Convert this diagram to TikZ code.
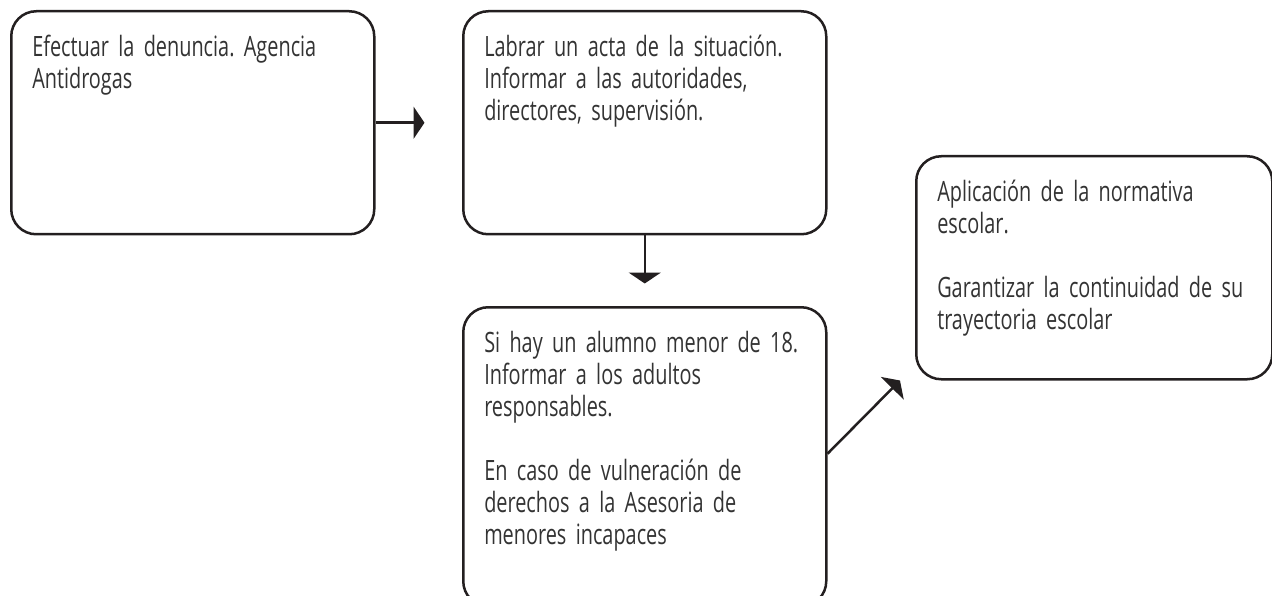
\documentclass[tikz,border=0pt]{standalone}
\usepackage{fontspec}
\setmainfont{Open Sans}[FakeStretch=0.71]
\usetikzlibrary{positioning}
\usetikzlibrary{arrows.meta}
\definecolor{linha}{HTML}{231F20}
\definecolor{texto}{HTML}{333333}
\frenchspacing

\begin{document}
\begin{tikzpicture}[x=1pt,y=-1pt,node distance=86.5pt,-{Triangle[length=11pt,width=32pt]},
  caixa/.style={draw=linha, line width=2.5pt, rounded corners=25pt, inner sep=21pt,
    text width=321pt, text height=24pt, text depth=157pt, align=left, text=texto,
    font=\fontsize{28pt}{32pt}\selectfont}]
            \path[use as bounding box, clip] (0,0) rectangle (1272,596);
            % Caixas
            \node [caixa, anchor=north west] (denuncia) at (10,10) {Efectuar la denuncia. Agencia\\Antidrogas};
            \node [caixa, right=86.5pt of denuncia] (acta) {Labrar un acta de la situación.\\Informar a las autoridades,\\directores, supervisión.};
            \node [caixa, text depth=233pt, below=70.5pt of acta] (menor) {\mbox{Si hay un alumno menor de 18.}\\Informar a los adultos\\responsables.\\[32pt]En caso de vulneración de\\derechos a la Asesoria de\\menores incapaces};
            \node [caixa, text width=314pt, anchor=north west] (normativa) at (915,155) {Aplicación de la normativa\\escolar.\\[32pt]\mbox{Garantizar la continuidad de su}\\trayectoria escolar};

            \coordinate[right = 49pt of denuncia] (d_f);
            \coordinate[below = 48pt of acta] (a_f);
            \coordinate[left = 15pt of normativa.south west] (m_f);

            % Setas
            \draw[linha, line width=2.5pt] (denuncia) -- (d_f);
            \draw[linha, line width=2.5pt] (acta) -- (a_f);
            \draw[linha, line width=2.5pt] ([yshift=3pt]menor.east) -- (m_f);
        \end{tikzpicture}
\end{document}
